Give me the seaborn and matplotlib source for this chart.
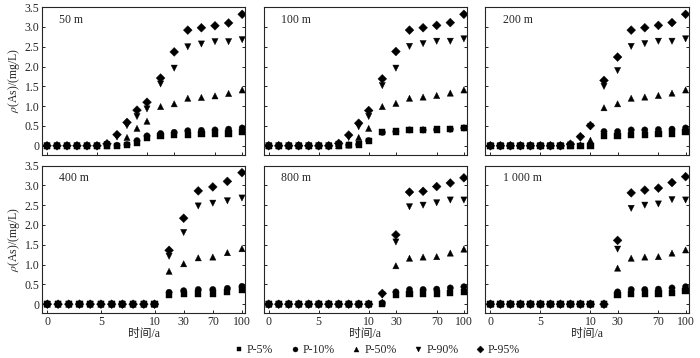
import numpy as np
import pandas as pd
import matplotlib
matplotlib.use("Agg")
import matplotlib.pyplot as plt
import seaborn as sns

# time points (years) of the samples; the 400 m run has one fewer late sample
times_a = [0, 1, 2, 3, 4, 5, 6, 7, 8, 9, 10, 20, 30, 40, 50, 70, 90, 100]
times_b = [0, 1, 2, 3, 4, 5, 6, 7, 8, 9, 10, 20, 30, 50, 70, 90, 100]
tick_years = [0, 5, 10, 30, 70, 100]

series = ["P-5%", "P-10%", "P-50%", "P-90%", "P-95%"]
distances = ["50 m", "100 m", "200 m", "400 m", "800 m", "1 000 m"]

# rho(As), mg/L
m50_p5 = [0, 0, 0, 0, 0, 0, 0, 0, 0.02, 0.08, 0.19, 0.25, 0.28, 0.27, 0.30, 0.30, 0.31, 0.34]
m50_p10 = [0, 0, 0, 0, 0, 0, 0, 0.01, 0.03, 0.13, 0.25, 0.31, 0.34, 0.38, 0.39, 0.40, 0.42, 0.45]
m50_p50 = [0, 0, 0, 0, 0, 0, 0, 0.02, 0.21, 0.44, 0.62, 0.99, 1.06, 1.20, 1.22, 1.26, 1.32, 1.41]
m50_p90 = [0, 0, 0, 0, 0, 0, 0.03, 0.22, 0.51, 0.74, 0.93, 1.56, 1.96, 2.50, 2.57, 2.63, 2.63, 2.68]
m50_p95 = [0, 0, 0, 0, 0, 0, 0.05, 0.28, 0.59, 0.90, 1.10, 1.71, 2.37, 2.92, 2.98, 3.03, 3.10, 3.32]

m100_p5 = [0, 0, 0, 0, 0, 0, 0, 0, 0.02, 0.03, 0.13, 0.34, 0.36, 0.40, 0.40, 0.41, 0.42, 0.45]
m100_p10 = [0, 0, 0, 0, 0, 0, 0, 0, 0.02, 0.03, 0.13, 0.34, 0.36, 0.40, 0.40, 0.41, 0.42, 0.45]
m100_p50 = [0, 0, 0, 0, 0, 0, 0, 0, 0.02, 0.21, 0.44, 0.99, 1.07, 1.20, 1.23, 1.27, 1.33, 1.41]
m100_p90 = [0, 0, 0, 0, 0, 0, 0, 0.04, 0.21, 0.48, 0.74, 1.52, 1.96, 2.51, 2.58, 2.64, 2.64, 2.70]
m100_p95 = [0, 0, 0, 0, 0, 0, 0, 0.06, 0.27, 0.57, 0.89, 1.69, 2.38, 2.92, 2.98, 3.04, 3.11, 3.32]

m200_p5 = [0, 0, 0, 0, 0, 0, 0, 0, 0, 0, 0, 0.25, 0.25, 0.28, 0.28, 0.30, 0.31, 0.34]
m200_p10 = [0, 0, 0, 0, 0, 0, 0, 0, 0, 0, 0.03, 0.36, 0.36, 0.40, 0.40, 0.41, 0.42, 0.45]
m200_p50 = [0, 0, 0, 0, 0, 0, 0, 0, 0, 0.02, 0.14, 0.96, 1.06, 1.20, 1.23, 1.27, 1.33, 1.41]
m200_p90 = [0, 0, 0, 0, 0, 0, 0, 0, 0.02, 0.19, 0.48, 1.50, 1.90, 2.51, 2.58, 2.64, 2.64, 2.70]
m200_p95 = [0, 0, 0, 0, 0, 0, 0, 0, 0.04, 0.23, 0.51, 1.65, 2.24, 2.92, 2.98, 3.04, 3.11, 3.32]

m400_p5 = [0, 0, 0, 0, 0, 0, 0, 0, 0, 0, 0, 0.24, 0.25, 0.27, 0.27, 0.30, 0.35]
m400_p10 = [0, 0, 0, 0, 0, 0, 0, 0, 0, 0, 0, 0.30, 0.34, 0.37, 0.37, 0.40, 0.45]
m400_p50 = [0, 0, 0, 0, 0, 0, 0, 0, 0, 0, 0, 0.83, 1.02, 1.17, 1.19, 1.30, 1.40]
m400_p90 = [0, 0, 0, 0, 0, 0, 0, 0, 0, 0, 0, 1.21, 1.81, 2.48, 2.55, 2.61, 2.68]
m400_p95 = [0, 0, 0, 0, 0, 0, 0, 0, 0, 0, 0, 1.36, 2.17, 2.86, 2.96, 3.10, 3.32]

m800_p5 = [0, 0, 0, 0, 0, 0, 0, 0, 0, 0, 0, 0.01, 0.23, 0.25, 0.27, 0.27, 0.29, 0.31]
m800_p10 = [0, 0, 0, 0, 0, 0, 0, 0, 0, 0, 0, 0.03, 0.31, 0.37, 0.37, 0.38, 0.41, 0.44]
m800_p50 = [0, 0, 0, 0, 0, 0, 0, 0, 0, 0, 0, 0.05, 0.97, 1.16, 1.19, 1.20, 1.29, 1.39]
m800_p90 = [0, 0, 0, 0, 0, 0, 0, 0, 0, 0, 0, 0.23, 1.57, 2.46, 2.50, 2.56, 2.63, 2.63]
m800_p95 = [0, 0, 0, 0, 0, 0, 0, 0, 0, 0, 0, 0.27, 1.75, 2.83, 2.85, 2.97, 3.06, 3.19]

m1000_p5 = [0, 0, 0, 0, 0, 0, 0, 0, 0, 0, 0, 0, 0.23, 0.25, 0.27, 0.27, 0.29, 0.33]
m1000_p10 = [0, 0, 0, 0, 0, 0, 0, 0, 0, 0, 0, 0, 0.31, 0.37, 0.37, 0.38, 0.41, 0.44]
m1000_p50 = [0, 0, 0, 0, 0, 0, 0, 0, 0, 0, 0, 0, 0.91, 1.16, 1.19, 1.20, 1.29, 1.37]
m1000_p90 = [0, 0, 0, 0, 0, 0, 0, 0, 0, 0, 0, 0, 1.39, 2.42, 2.50, 2.53, 2.64, 2.63]
m1000_p95 = [0, 0, 0, 0, 0, 0, 0, 0, 0, 0, 0, 0, 1.61, 2.81, 2.88, 2.93, 3.07, 3.22]

panels = [
    (times_a, [m50_p5, m50_p10, m50_p50, m50_p90, m50_p95]),
    (times_a, [m100_p5, m100_p10, m100_p50, m100_p90, m100_p95]),
    (times_a, [m200_p5, m200_p10, m200_p50, m200_p90, m200_p95]),
    (times_b, [m400_p5, m400_p10, m400_p50, m400_p90, m400_p95]),
    (times_a, [m800_p5, m800_p10, m800_p50, m800_p90, m800_p95]),
    (times_a, [m1000_p5, m1000_p10, m1000_p50, m1000_p90, m1000_p95]),
]

marker_map = {"P-5%": "s", "P-10%": "o", "P-50%": "^", "P-90%": "v", "P-95%": "D"}


def axis_pos(times):
    # yearly steps up to 10 a, wider compressed steps afterwards
    idx = np.arange(len(times))
    return np.where(idx <= 10, idx, 10 + (idx - 10) * 1.36)


sns.set_style("ticks")
plt.rcParams["font.family"] = ["Liberation Serif", "Noto Sans CJK SC"]
plt.rcParams["mathtext.fontset"] = "stix"
plt.rcParams["font.size"] = 8.5

fig, axes = plt.subplots(2, 3, figsize=(7, 3.58), dpi=100, sharey=True)
fig.subplots_adjust(left=0.06, right=0.984, bottom=0.126, top=0.98, wspace=0.09, hspace=0.075)

handles, labels = None, None
for k, (ax, (times, vals)) in enumerate(zip(axes.flat, panels)):
    pos = axis_pos(times)
    df = pd.DataFrame({
        "pos": np.tile(pos, len(series)),
        "val": np.concatenate(vals),
        "series": np.repeat(series, len(times)),
    })
    sns.scatterplot(data=df, x="pos", y="val", style="series", markers=marker_map,
                    color="black", s=20, edgecolor="black", linewidth=0.3,
                    ax=ax, legend=(k == 0))
    if k == 0:
        handles, labels = ax.get_legend_handles_labels()
        ax.get_legend().remove()

    ax.set_xlim(-0.5, pos[-1] + 0.32)
    ax.set_ylim(-0.22, 3.5)
    ax.set_xticks([pos[times.index(t)] for t in tick_years])
    ax.set_yticks(np.arange(0, 3.51, 0.5))
    ax.set_yticklabels(["0"] + [f"{v:.1f}" for v in np.arange(0.5, 3.51, 0.5)])
    ax.tick_params(direction="in", length=2.5, width=0.7, right=True, labelsize=8.5, pad=2)
    for sp in ax.spines.values():
        sp.set_linewidth(0.8)
    ax.text(0.085, 0.955, distances[k], transform=ax.transAxes, ha="left", va="top", fontsize=8.5)
    ax.set_ylabel("")
    if k < 3:
        ax.set_xticklabels([])
        ax.set_xlabel("")
    else:
        ax.set_xticklabels([str(t) for t in tick_years])
        ax.set_xlabel("时间/a", fontsize=8.5, labelpad=0)
    if k % 3 == 0:
        ax.set_ylabel(r"$\rho$(As)/(mg/L)", fontsize=8.5, labelpad=2)

fig.legend(handles, labels, loc="lower center", bbox_to_anchor=(0.537, -0.025), ncol=5,
           frameon=False, fontsize=8.5, handletextpad=0.1, columnspacing=1.2,
           markerscale=0.8, handlelength=1.2)

plt.savefig("out.png", dpi=100)
